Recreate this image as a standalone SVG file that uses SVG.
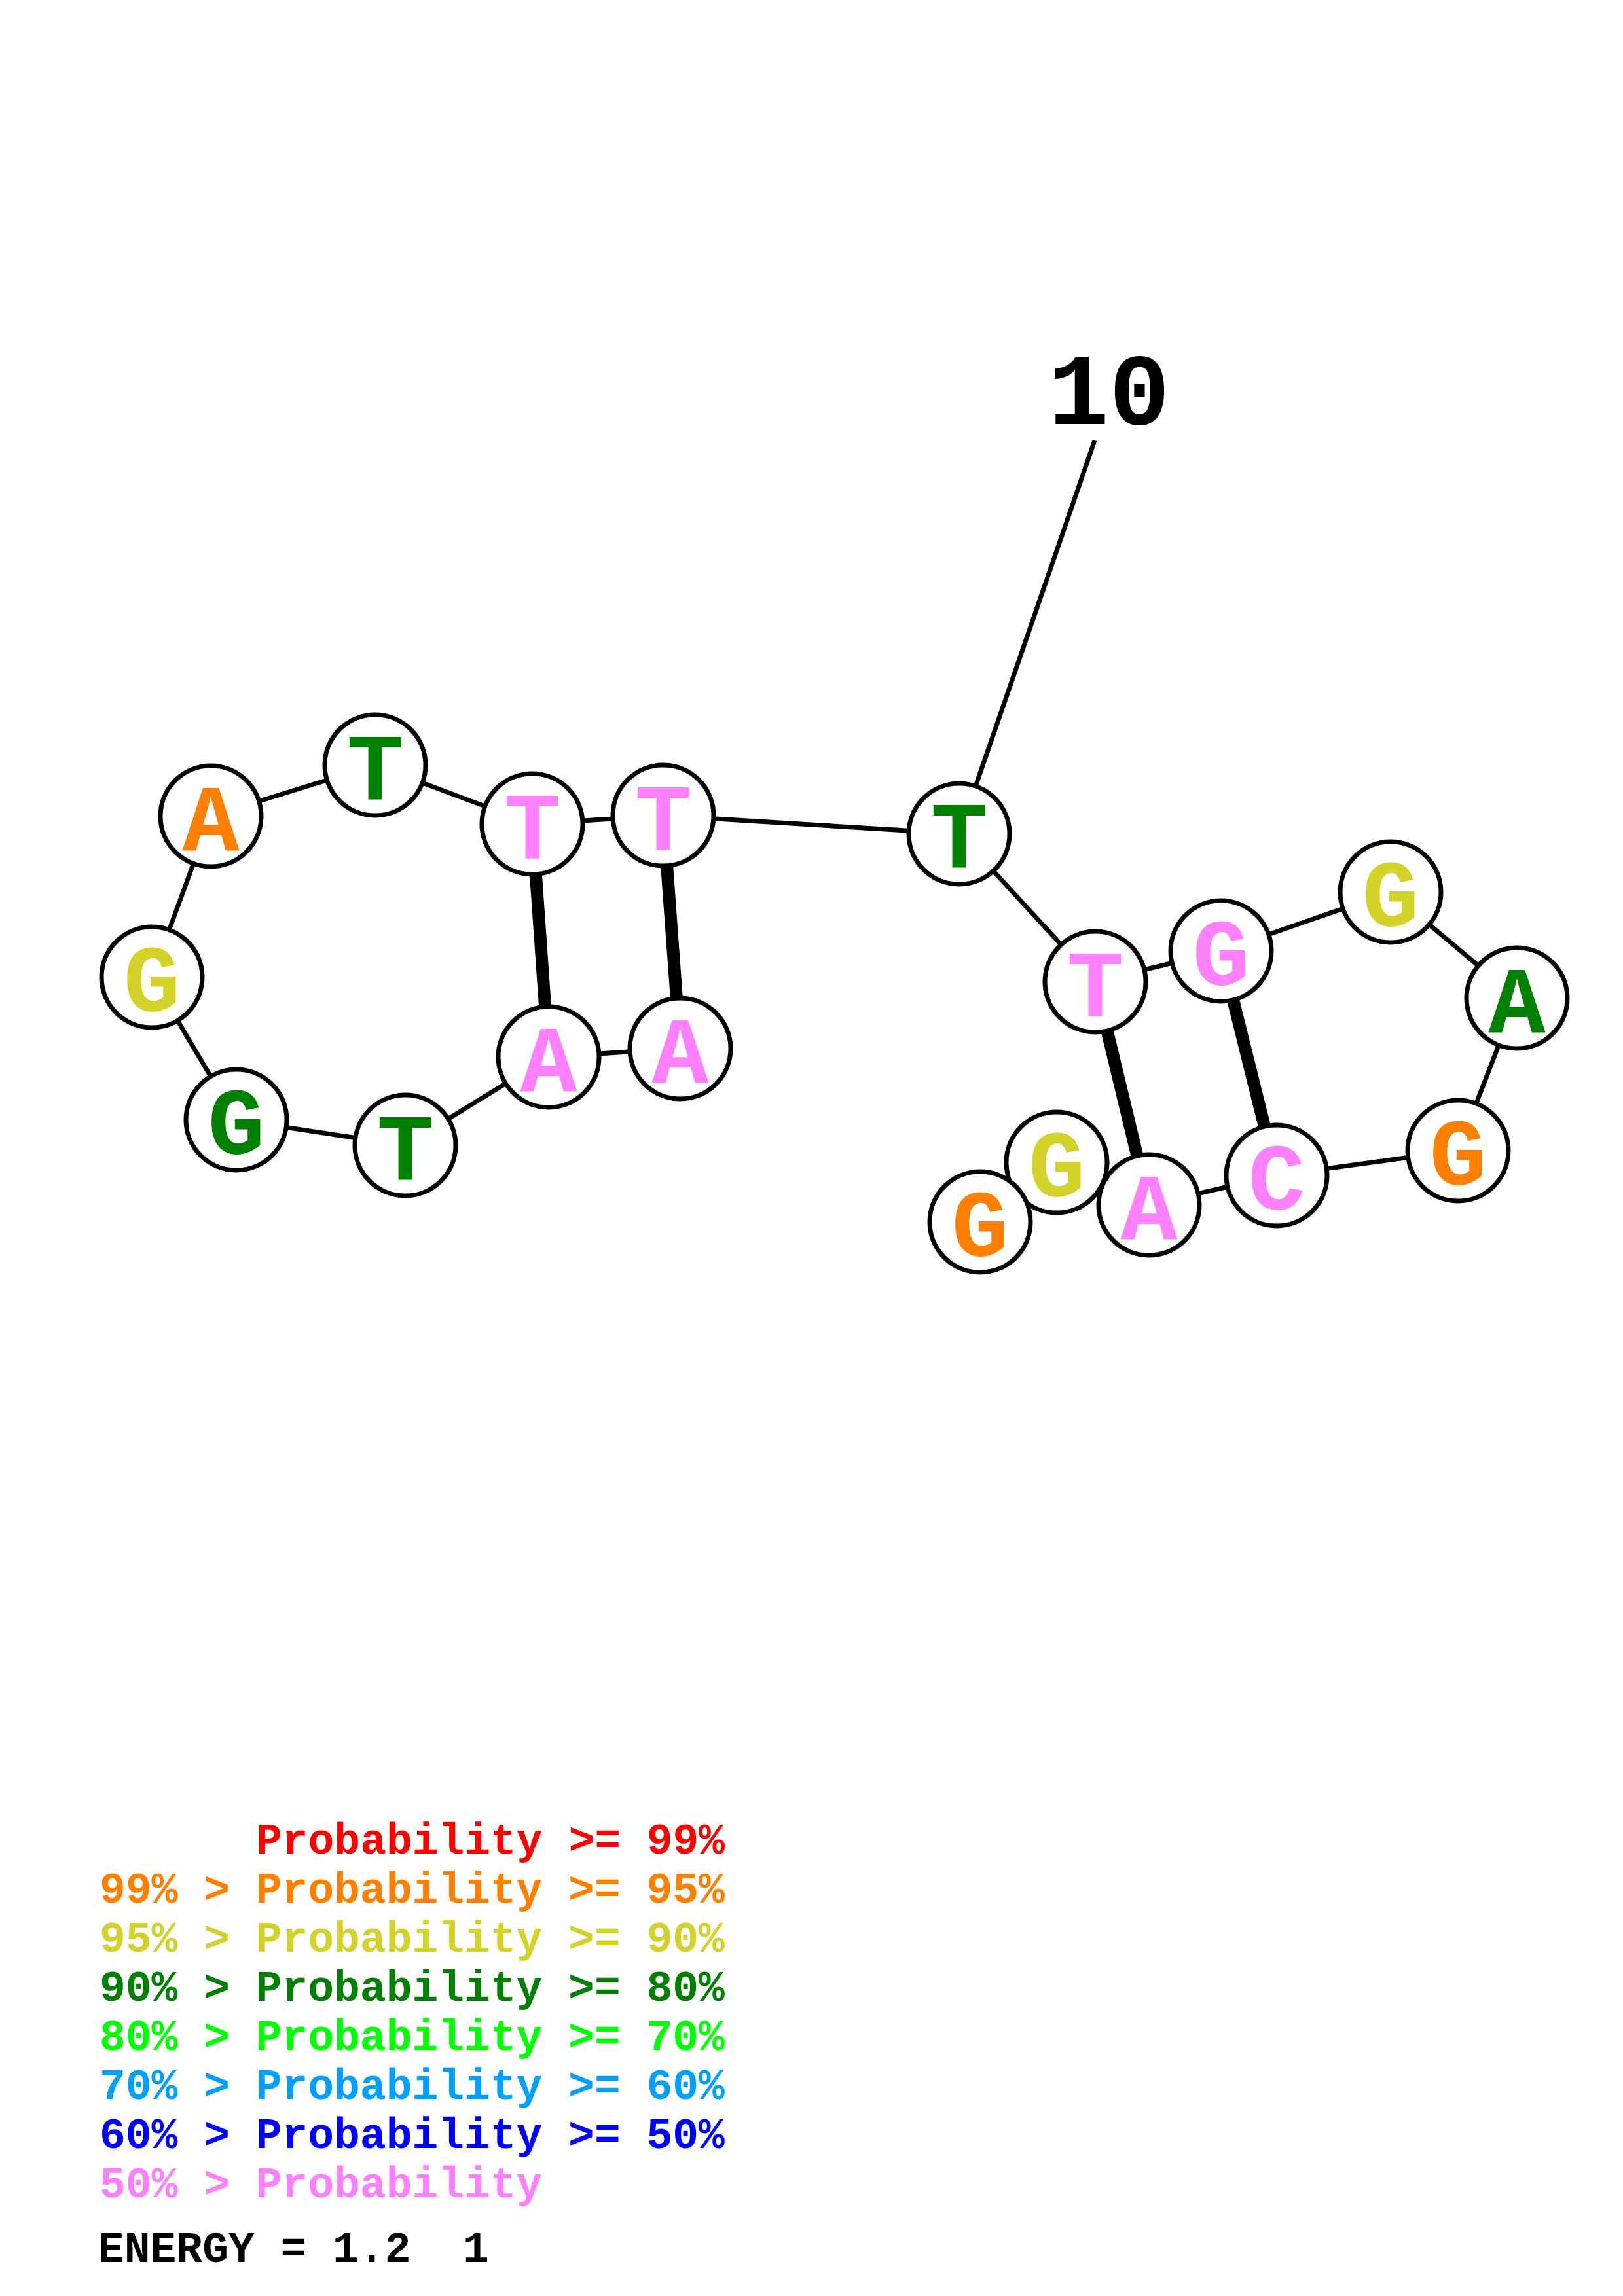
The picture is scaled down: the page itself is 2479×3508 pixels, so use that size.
<svg xmlns="http://www.w3.org/2000/svg" width="2479" height="3508" viewBox="0 0 2479 3508">
<style>
.bb{stroke:#000;stroke-width:7;fill:none}
.bp{stroke:#000;stroke-width:19;fill:none}
.nc{fill:#fff;stroke:#000;stroke-width:7}
.nt{font-family:"Liberation Mono","DejaVu Sans Mono",monospace;font-weight:bold;font-size:145px;text-anchor:middle}
.lg{font-family:"Liberation Mono","DejaVu Sans Mono",monospace;font-weight:bold;font-size:66.3px}
.c99{fill:#FF0000}.c95{fill:#FF8000}.c90{fill:#D2D22A}.c80{fill:#008000}.c70{fill:#00FF00}.c60{fill:#00A0FF}.c50{fill:#0000FF}.c00{fill:#FF80FF}
</style>
<rect width="2479" height="3508" fill="#fff"/>
<g id="connectors">
<polyline class="bb" points="1497,1867 1614,1776 1755,1841 1950,1796 2227,1758 2317,1525 2124,1363 1865,1453 1673,1500 1465,1274 1013,1246 813,1259 573,1169 322,1247 232,1493 361,1711 619,1750 838,1615 1039,1602"/>
<line class="bp" x1="813" y1="1259" x2="838" y2="1615"/>
<line class="bp" x1="1013" y1="1246" x2="1039" y2="1602"/>
<line class="bp" x1="1673" y1="1500" x2="1755" y2="1841"/>
<line class="bp" x1="1865" y1="1453" x2="1950" y2="1796"/>
<line class="bb" x1="1672" y1="673" x2="1465" y2="1274"/>
</g>
<text x="1694" y="648" font-family="Liberation Mono, DejaVu Sans Mono, monospace" font-weight="bold" font-size="155" text-anchor="middle">10</text>
<g id="n2"><circle class="nc" cx="1614" cy="1776" r="77"/><text class="nt c90" x="1614" y="1828">G</text></g>
<g id="n1"><circle class="nc" cx="1497" cy="1867" r="77"/><text class="nt c95" x="1497" y="1919">G</text></g>
<g id="n3"><circle class="nc" cx="1755" cy="1841" r="77"/><text class="nt c00" x="1755" y="1893">A</text></g>
<g id="n4"><circle class="nc" cx="1950" cy="1796" r="77"/><text class="nt c00" x="1950" y="1848">C</text></g>
<g id="n5"><circle class="nc" cx="2227" cy="1758" r="77"/><text class="nt c95" x="2227" y="1810">G</text></g>
<g id="n6"><circle class="nc" cx="2317" cy="1525" r="77"/><text class="nt c80" x="2317" y="1577">A</text></g>
<g id="n7"><circle class="nc" cx="2124" cy="1363" r="77"/><text class="nt c90" x="2124" y="1415">G</text></g>
<g id="n8"><circle class="nc" cx="1865" cy="1453" r="77"/><text class="nt c00" x="1865" y="1505">G</text></g>
<g id="n9"><circle class="nc" cx="1673" cy="1500" r="77"/><text class="nt c00" x="1673" y="1552">T</text></g>
<g id="n10"><circle class="nc" cx="1465" cy="1274" r="77"/><text class="nt c80" x="1465" y="1325">T</text></g>
<g id="n11"><circle class="nc" cx="1013" cy="1246" r="77"/><text class="nt c00" x="1013" y="1298">T</text></g>
<g id="n12"><circle class="nc" cx="813" cy="1259" r="77"/><text class="nt c00" x="813" y="1311">T</text></g>
<g id="n13"><circle class="nc" cx="573" cy="1169" r="77"/><text class="nt c80" x="573" y="1221">T</text></g>
<g id="n14"><circle class="nc" cx="322" cy="1247" r="77"/><text class="nt c95" x="322" y="1299">A</text></g>
<g id="n15"><circle class="nc" cx="232" cy="1493" r="77"/><text class="nt c90" x="232" y="1545">G</text></g>
<g id="n16"><circle class="nc" cx="361" cy="1711" r="77"/><text class="nt c80" x="361" y="1763">G</text></g>
<g id="n17"><circle class="nc" cx="619" cy="1750" r="77"/><text class="nt c80" x="619" y="1802">T</text></g>
<g id="n18"><circle class="nc" cx="838" cy="1615" r="77"/><text class="nt c00" x="838" y="1667">A</text></g>
<g id="n19"><circle class="nc" cx="1039" cy="1602" r="77"/><text class="nt c00" x="1039" y="1654">A</text></g>
<g id="legend">
<text class="lg c99" x="391" y="2832">Probability &gt;= 99%</text>
<text class="lg c95" x="152" y="2907">99% &gt; Probability &gt;= 95%</text>
<text class="lg c90" x="152" y="2982">95% &gt; Probability &gt;= 90%</text>
<text class="lg c80" x="152" y="3057">90% &gt; Probability &gt;= 80%</text>
<text class="lg c70" x="152" y="3132">80% &gt; Probability &gt;= 70%</text>
<text class="lg c60" x="152" y="3207">70% &gt; Probability &gt;= 60%</text>
<text class="lg c50" x="152" y="3282">60% &gt; Probability &gt;= 50%</text>
<text class="lg c00" x="152" y="3357">50% &gt; Probability</text>
<text class="lg" x="150" y="3456" fill="#000" xml:space="preserve">ENERGY = 1.2  1</text>
</g>
</svg>
